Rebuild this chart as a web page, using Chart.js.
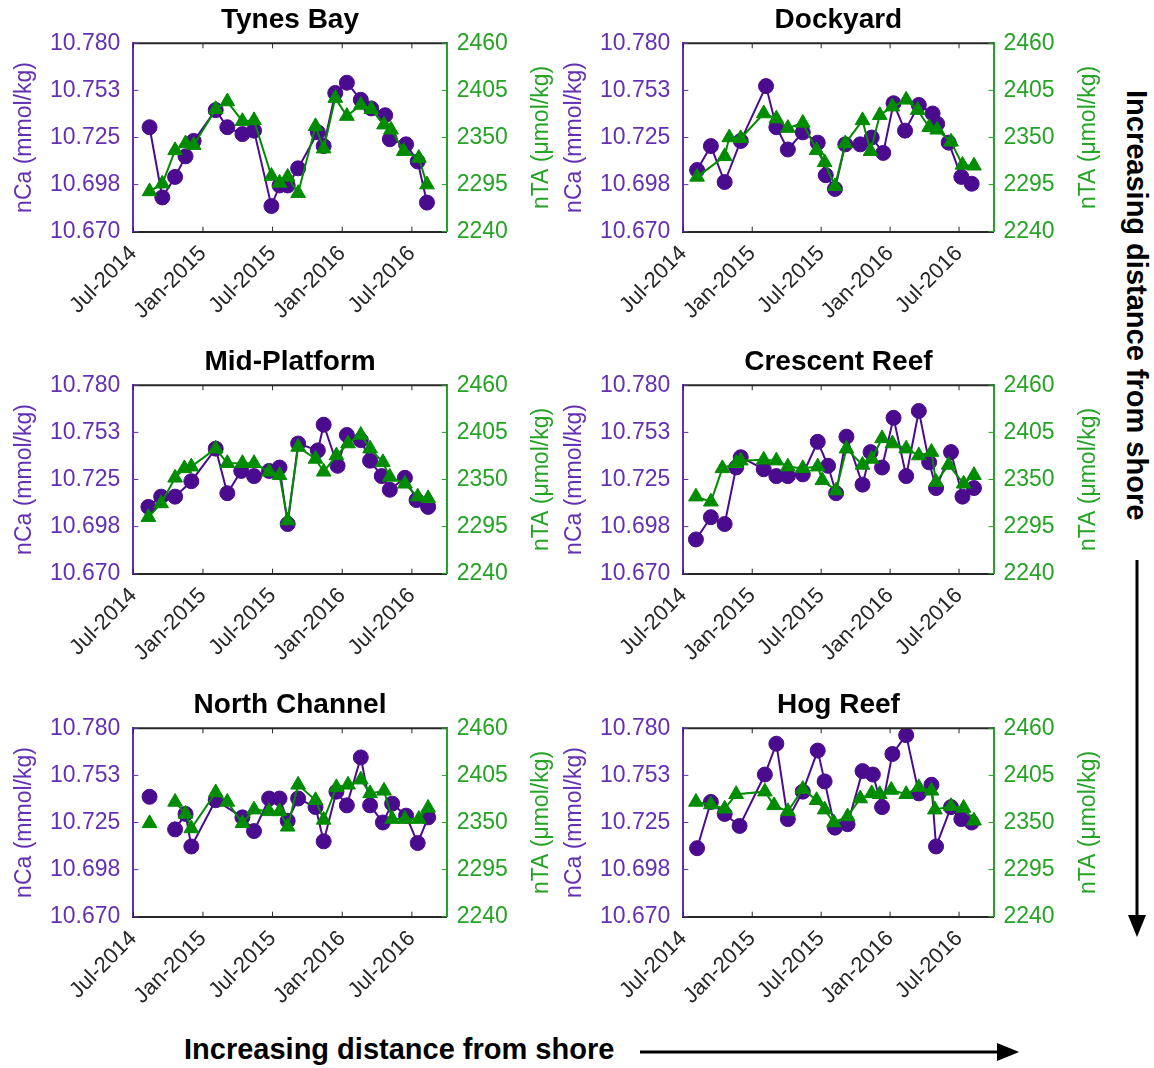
<!DOCTYPE html>
<html><head><meta charset="utf-8">
<script src="https://cdn.jsdelivr.net/npm/chart.js@4.4.1/dist/chart.umd.min.js"></script>
<style>
html,body{margin:0;padding:0;background:#fff;}
#fig{position:relative;width:1154px;height:1068px;overflow:hidden;background:#fff;font-family:"Liberation Sans",Arial,Helvetica,sans-serif;}
canvas{position:absolute;}
.note{position:absolute;font-weight:bold;font-size:29px;line-height:32px;color:#000;white-space:nowrap;}
</style></head><body>
<div id="fig">
<svg style="position:absolute;left:0;top:0" width="1154" height="1068">
  <line x1="640" y1="1052" x2="1000" y2="1052" stroke="#000" stroke-width="3"/>
  <polygon points="1019,1052 997,1043 997,1061" fill="#000"/>
  <line x1="1137" y1="560" x2="1137" y2="917" stroke="#000" stroke-width="3"/>
  <polygon points="1137,937 1128,915 1146,915" fill="#000"/>
</svg>
<canvas id="c0" width="560" height="340" style="left:0px;top:0px"></canvas>
<canvas id="c1" width="560" height="340" style="left:550px;top:0px"></canvas>
<canvas id="c2" width="560" height="340" style="left:0px;top:342px"></canvas>
<canvas id="c3" width="560" height="340" style="left:550px;top:342px"></canvas>
<canvas id="c4" width="560" height="340" style="left:0px;top:685px"></canvas>
<canvas id="c5" width="560" height="340" style="left:550px;top:685px"></canvas>
<div class="note" style="left:184px;top:1033px">Increasing distance from shore</div>
<div class="note" style="left:1121px;top:90px;writing-mode:vertical-rl">Increasing distance from shore</div>
</div>
<script>
// ---- axis ticks / labels ----
const monthTicks = [0, 6, 12, 18, 24];            // months since Jul-2014
const monthLabels = ['Jul-2014', 'Jan-2015', 'Jul-2015', 'Jan-2016', 'Jul-2016'];
const caTicks = [10.67, 10.6975, 10.725, 10.7525, 10.78];
const caTickLabels = ['10.670', '10.698', '10.725', '10.753', '10.780'];
const taTicks = [2240, 2295, 2350, 2405, 2460];
const taTickLabels = ['2240', '2295', '2350', '2405', '2460'];
const caLabel = 'nCa (mmol/kg)';
const taLabel = 'nTA (μmol/kg)';
const siteNames = ['Tynes Bay', 'Dockyard', 'Mid-Platform', 'Crescent Reef', 'North Channel', 'Hog Reef'];
const bottomNote = 'Increasing distance from shore';

// ---- Tynes Bay ----
const tynesCaX = [1.4, 2.5, 3.6, 4.5, 5.2, 7.1, 8.1, 9.4, 10.4, 11.9, 12.6, 13.3, 14.2, 15.9, 16.4, 17.4, 18.4, 19.6, 20.5, 21.7, 22.1, 23.5, 24.5, 25.3];
const tynesCa  = [10.731, 10.690, 10.702, 10.714, 10.723, 10.741, 10.731, 10.727, 10.729, 10.685, 10.697, 10.697, 10.707, 10.728, 10.720, 10.751, 10.757, 10.747, 10.742, 10.738, 10.724, 10.721, 10.711, 10.687];
const tynesTaX = [1.4, 2.5, 3.6, 4.5, 5.2, 7.1, 8.1, 9.4, 10.4, 11.9, 12.6, 13.3, 14.2, 15.7, 16.4, 17.4, 18.4, 19.6, 20.5, 21.6, 22.2, 23.3, 24.6, 25.3];
const tynesTa  = [2287, 2296, 2335, 2343, 2341, 2383, 2392, 2369, 2370, 2305, 2297, 2304, 2285, 2363, 2337, 2396, 2375, 2388, 2383, 2365, 2359, 2334, 2326, 2295];

// ---- Dockyard ----
const dockCaX = [1.2, 2.4, 3.6, 5.0, 7.2, 8.1, 9.1, 10.4, 11.7, 12.4, 13.2, 14.1, 15.4, 16.4, 17.4, 18.3, 19.3, 20.5, 21.7, 22.1, 23.1, 24.2, 25.1];
const dockCa  = [10.706, 10.720, 10.699, 10.723, 10.755, 10.731, 10.718, 10.728, 10.722, 10.703, 10.695, 10.721, 10.721, 10.725, 10.716, 10.745, 10.729, 10.744, 10.739, 10.733, 10.722, 10.702, 10.698];
const dockTaX = [1.2, 3.6, 4.0, 5.0, 7.0, 8.1, 9.1, 10.4, 11.6, 12.3, 13.2, 14.1, 15.6, 16.3, 17.1, 18.2, 19.4, 20.4, 21.4, 22.1, 23.3, 24.3, 25.3];
const dockTa  = [2304, 2328, 2350, 2349, 2378, 2372, 2361, 2367, 2335, 2321, 2293, 2343, 2370, 2334, 2376, 2386, 2394, 2382, 2362, 2359, 2345, 2318, 2317];

// ---- Mid-Platform ----
const midCaX = [1.3, 2.4, 3.6, 5.0, 7.1, 8.1, 9.3, 10.4, 11.7, 12.6, 13.3, 14.2, 15.9, 16.4, 17.6, 18.4, 19.6, 20.4, 21.4, 22.1, 23.4, 24.4, 25.4];
const midCa  = [10.709, 10.715, 10.715, 10.724, 10.743, 10.717, 10.730, 10.727, 10.730, 10.732, 10.699, 10.746, 10.742, 10.757, 10.733, 10.751, 10.748, 10.736, 10.727, 10.719, 10.726, 10.713, 10.709];
const midTaX = [1.3, 2.4, 3.6, 4.4, 5.0, 7.1, 8.1, 9.4, 10.4, 11.7, 12.6, 13.3, 14.2, 15.7, 16.4, 17.5, 18.5, 19.6, 20.4, 21.5, 22.1, 23.4, 24.5, 25.4];
const midTa  = [2306, 2322, 2352, 2363, 2365, 2386, 2369, 2369, 2369, 2359, 2355, 2302, 2388, 2374, 2359, 2378, 2392, 2402, 2386, 2370, 2353, 2345, 2330, 2328];

// ---- Crescent Reef ----
const cresCaX = [1.1, 2.4, 3.6, 4.6, 5.0, 7.0, 8.1, 9.1, 10.4, 11.7, 12.6, 13.3, 14.2, 15.6, 16.3, 17.3, 18.3, 19.4, 20.5, 21.4, 22.0, 23.3, 24.3, 25.3];
const cresCa  = [10.690, 10.703, 10.699, 10.732, 10.738, 10.731, 10.727, 10.727, 10.728, 10.747, 10.733, 10.717, 10.750, 10.722, 10.741, 10.732, 10.761, 10.727, 10.765, 10.735, 10.720, 10.741, 10.715, 10.720];
const cresTaX = [1.1, 2.4, 3.4, 4.6, 5.0, 7.0, 8.1, 9.1, 10.4, 11.7, 12.1, 13.3, 14.2, 15.6, 16.4, 17.3, 18.2, 19.4, 20.5, 21.6, 22.0, 23.1, 24.4, 25.3];
const cresTa  = [2330, 2324, 2363, 2369, 2372, 2373, 2372, 2365, 2363, 2365, 2349, 2337, 2386, 2367, 2374, 2398, 2392, 2386, 2378, 2382, 2347, 2367, 2345, 2355];

// ---- North Channel (null = missing sample) ----
const northCaX = [1.4, 2.5, 3.6, 4.5, 5.0, 7.1, 9.4, 10.4, 11.7, 12.6, 13.3, 14.2, 15.7, 16.4, 17.5, 18.4, 19.6, 20.4, 21.5, 22.3, 23.5, 24.5, 25.4];
const northCa  = [10.740, null, 10.721, 10.730, 10.711, 10.738, 10.728, 10.720, 10.739, 10.739, 10.726, 10.739, 10.734, 10.714, 10.743, 10.735, 10.763, 10.735, 10.725, 10.736, 10.729, 10.713, 10.728];
const northTaX = [1.4, 2.5, 3.6, 4.5, 5.0, 7.1, 8.1, 9.4, 10.4, 11.7, 12.6, 13.3, 14.2, 15.7, 16.4, 17.5, 18.5, 19.6, 20.4, 21.6, 22.3, 23.4, 24.6, 25.4];
const northTa  = [2349, null, 2374, 2360, 2343, 2385, 2374, 2349, 2365, 2363, 2363, 2345, 2394, 2376, 2353, 2391, 2394, 2400, 2384, 2387, 2354, 2354, 2354, 2367];

// ---- Hog Reef ----
const hogCaX = [1.2, 2.4, 3.6, 4.9, 7.1, 8.1, 9.1, 10.4, 11.7, 12.3, 13.2, 14.3, 15.6, 16.5, 17.3, 18.2, 19.4, 20.5, 21.6, 22.0, 23.3, 24.2, 25.1];
const hogCa  = [10.710, 10.737, 10.730, 10.723, 10.753, 10.771, 10.727, 10.743, 10.767, 10.749, 10.722, 10.724, 10.755, 10.753, 10.734, 10.765, 10.776, 10.742, 10.747, 10.711, 10.734, 10.727, 10.725];
const hogTaX = [1.1, 2.4, 3.6, 4.6, 7.1, 7.9, 9.1, 10.4, 11.6, 12.3, 13.1, 14.3, 15.4, 16.4, 17.1, 18.1, 19.4, 20.5, 21.6, 21.9, 23.3, 24.4, 25.3];
const hogTa  = [2374, 2371, 2366, 2383, 2386, 2370, 2363, 2389, 2376, 2365, 2350, 2357, 2378, 2384, 2383, 2388, 2383, 2391, 2387, 2365, 2369, 2367, 2352];

// ---- styling ----
const FONT = '"Liberation Sans", Arial, Helvetica, sans-serif';
const PURPLE = '#4b0b8f';
const PURPLE_AX = '#6330b4';
const GREEN = '#008c00';
const GREEN_AX = '#25a325';
const DARK = '#262626';
const CANVAS_W = 560;
const LEFT_W = 133.3;

const framePlugin = {
  id: 'frame',
  afterDraw(chart) {
    const {ctx, chartArea: a, scales} = chart;
    ctx.save();
    ctx.lineWidth = 2;
    ctx.strokeStyle = DARK;
    ctx.beginPath(); ctx.moveTo(a.left, a.top); ctx.lineTo(a.right, a.top); ctx.stroke();
    const L = 5;
    ctx.lineWidth = 1;
    const seg = (x1, y1, x2, y2) => { ctx.beginPath(); ctx.moveTo(x1, y1); ctx.lineTo(x2, y2); ctx.stroke(); };
    ctx.strokeStyle = DARK;
    scales.x.ticks.forEach(t => {
      const px = scales.x.getPixelForValue(t.value);
      seg(px, a.bottom, px, a.bottom - L);
      seg(px, a.top, px, a.top + L);
    });
    ctx.strokeStyle = PURPLE_AX;
    scales.y.ticks.forEach(t => { const py = scales.y.getPixelForValue(t.value); seg(a.left, py, a.left + L, py); });
    ctx.strokeStyle = GREEN_AX;
    scales.y1.ticks.forEach(t => { const py = scales.y1.getPixelForValue(t.value); seg(a.right, py, a.right - L, py); });
    // right axis title, reading bottom-to-top
    ctx.translate(a.right + 95, (a.top + a.bottom) / 2);
    ctx.rotate(-Math.PI / 2);
    ctx.font = '23px ' + FONT;
    ctx.fillStyle = GREEN_AX;
    ctx.textAlign = 'center';
    ctx.textBaseline = 'middle';
    ctx.fillText(taLabel, 0, 0);
    ctx.restore();
  }
};

function pts(xs, ys) { return xs.map((x, i) => ({x: x, y: ys[i]})); }

function makePanel(id, title, caX, caY, taX, taY, plotW) {
  new Chart(document.getElementById(id), {
    type: 'line',
    data: {
      datasets: [
        {label: taLabel, data: pts(taX, taY), yAxisID: 'y1', borderColor: GREEN, backgroundColor: GREEN,
         borderWidth: 2, pointStyle: 'triangle', pointRadius: 8.5, pointBorderWidth: 1,
         pointBackgroundColor: GREEN, pointBorderColor: GREEN, tension: 0, spanGaps: false},
        {label: caLabel, data: pts(caX, caY), yAxisID: 'y', borderColor: PURPLE, backgroundColor: PURPLE,
         borderWidth: 2, pointStyle: 'circle', pointRadius: 7.5, pointBorderWidth: 1,
         pointBackgroundColor: PURPLE, pointBorderColor: PURPLE, tension: 0, spanGaps: false}
      ]
    },
    options: {
      responsive: false, animation: false, devicePixelRatio: 1,
      layout: {padding: 0},
      plugins: {
        legend: {display: false}, tooltip: {enabled: false},
        title: {display: true, text: title, fullSize: false, color: '#000',
                font: {size: 28, weight: 'bold', family: FONT, lineHeight: 1.2}, padding: {top: 3, bottom: 6.7}}
      },
      scales: {
        x: {
          type: 'linear', min: 0, max: 27,
          afterBuildTicks: s => { s.ticks = monthTicks.map(v => ({value: v})); },
          afterFit: s => { s.height = 108.3; },
          ticks: {callback: (v, i) => monthLabels[i], maxRotation: 45, minRotation: 45, autoSkip: false,
                  font: {size: 22, family: FONT}, color: DARK, padding: 9},
          grid: {display: false, drawTicks: false},
          border: {display: true, color: DARK, width: 2}
        },
        y: {
          position: 'left', min: caTicks[0], max: caTicks[caTicks.length - 1],
          afterBuildTicks: s => { s.ticks = caTicks.map(v => ({value: v})); },
          afterFit: s => { s.width = LEFT_W; },
          ticks: {callback: (v, i) => caTickLabels[i], font: {size: 23, family: FONT}, color: PURPLE_AX, padding: 13},
          title: {display: true, text: caLabel, color: PURPLE_AX, font: {size: 23, family: FONT}, padding: {top: 11, bottom: 0}},
          grid: {display: false, drawTicks: false},
          border: {display: true, color: PURPLE_AX, width: 2}
        },
        y1: {
          position: 'right', min: taTicks[0], max: taTicks[taTicks.length - 1],
          afterBuildTicks: s => { s.ticks = taTicks.map(v => ({value: v})); },
          afterFit: s => { s.width = CANVAS_W - LEFT_W - plotW; },
          ticks: {callback: (v, i) => taTickLabels[i], font: {size: 23, family: FONT}, color: GREEN_AX, padding: 10},
          grid: {display: false, drawTicks: false},
          border: {display: true, color: GREEN_AX, width: 2}
        }
      }
    },
    plugins: [framePlugin]
  });
}

makePanel('c0', siteNames[0], tynesCaX, tynesCa, tynesTaX, tynesTa, 313.4);
makePanel('c1', siteNames[1], dockCaX, dockCa, dockTaX, dockTa, 310.2);
makePanel('c2', siteNames[2], midCaX, midCa, midTaX, midTa, 313.4);
makePanel('c3', siteNames[3], cresCaX, cresCa, cresTaX, cresTa, 310.2);
makePanel('c4', siteNames[4], northCaX, northCa, northTaX, northTa, 313.4);
makePanel('c5', siteNames[5], hogCaX, hogCa, hogTaX, hogTa, 310.2);
</script>
</body></html>
